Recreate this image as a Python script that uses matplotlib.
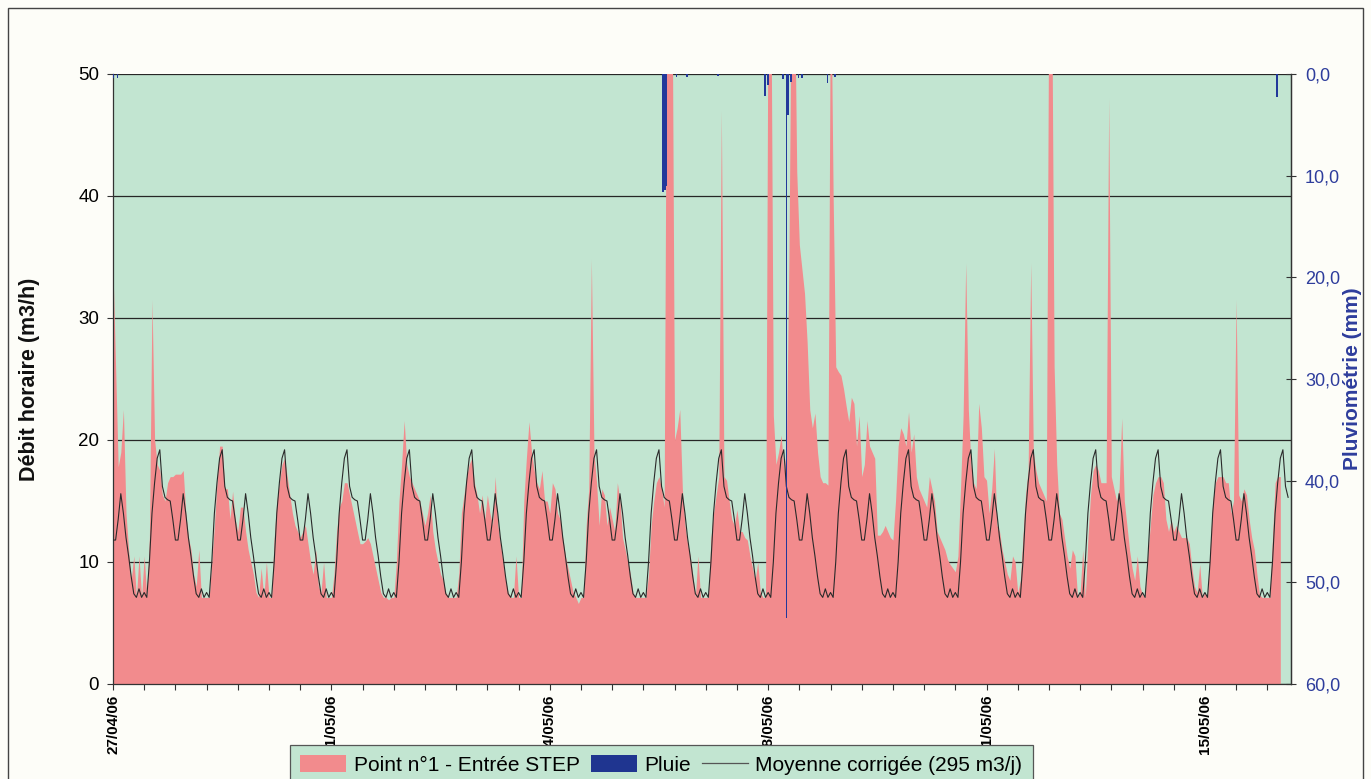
import numpy as np
import matplotlib
matplotlib.use("Agg")
import matplotlib.pyplot as plt
from matplotlib.patches import Patch, Rectangle
from matplotlib.lines import Line2D

plt.rcParams['font.family'] = ['Liberation Sans', 'DejaVu Sans']

# ---------------- data ----------------
# Hourly flow (m3/h) "Point n°1 - Entrée STEP", one list per day (24 h each)
flow_d00 = [34, 26, 17.8, 19, 22.5, 14, 11, 8.5, 10.5, 7.1, 10.5, 7.1, 10.5, 7.1, 12, 31.5, 20, 18, 17.5, 15.5, 15, 16.5, 17, 17]
flow_d01 = [17.2, 17.2, 17.2, 17.5, 14, 12, 11, 9, 8, 11, 7.1, 7.1, 7.1, 7.1, 10, 13, 16.5, 19.5, 19.5, 16, 16, 13.5, 15.8, 13.5]
flow_d02 = [12.5, 14.5, 14.5, 12.5, 11, 10, 9, 7.5, 7.1, 9.5, 7.1, 10, 7.1, 7.1, 12, 15, 16.5, 18, 18.5, 17, 15.5, 14, 13, 12.5]
flow_d03 = [12, 12.5, 13, 11.5, 10, 9, 11, 8, 7.5, 10, 7.1, 7.1, 7.1, 9, 12.5, 14.5, 15, 16.5, 16.5, 15.5, 14.5, 13.5, 12.5, 11.5]
flow_d04 = [11.5, 11.7, 12, 11.5, 10.5, 9.5, 8.5, 7.5, 7.1, 7.1, 6.9, 7.1, 7.1, 10, 15, 18, 21.6, 18, 17, 16.5, 16, 15.5, 15, 14]
flow_d05 = [13, 14, 15.5, 12.5, 11, 10, 9, 8.5, 7.5, 7.1, 7.1, 7.1, 7.1, 9, 14, 15.5, 17, 18, 18.5, 16.5, 15.5, 14, 15.5, 13.5]
flow_d06 = [15.5, 14, 13, 17, 13, 11.5, 10, 8.5, 7.5, 7.1, 7.1, 10.5, 7.1, 7.1, 15, 18.5, 21.5, 19, 17.5, 16.5, 16, 17.5, 15, 15]
flow_d07 = [14, 16.5, 16, 14, 13.5, 12, 10.5, 9.5, 8.5, 7.5, 7.1, 6.6, 7.1, 7.1, 13, 16, 34.8, 19, 16.5, 13, 16, 15.5, 13, 14.5]
flow_d08 = [13.5, 12.5, 16.5, 15, 12, 11, 10, 9, 7.5, 7.1, 7.1, 7.1, 7.1, 7.1, 9, 13, 15, 16.5, 17, 16, 14.5, 60, 60, 60]
flow_d09 = [20, 21, 22.5, 16, 13, 11.5, 10.5, 9, 7.1, 10.5, 7.1, 7.1, 7.1, 7.1, 12, 14, 15.5, 17, 47, 17, 16.7, 15, 13.5, 13]
flow_d10 = [14.3, 12.5, 12.5, 12, 11.8, 10.5, 9.5, 8.5, 10, 7.5, 7.1, 7.1, 60, 60, 22, 18, 19, 20.4, 17.5, 19, 35, 60, 60, 42]
flow_d11 = [36, 34, 32, 28, 22.5, 21, 22.2, 19, 17, 16.5, 16.5, 16.3, 60, 40, 26, 25.6, 25.3, 24.2, 22.8, 21.5, 23.5, 23, 19.5, 22]
flow_d12 = [17, 18, 21.6, 19.5, 19, 18.5, 12.2, 12.2, 12.5, 13, 12.5, 12, 11.8, 15, 19.5, 21, 20.5, 19.5, 22.3, 19, 20.5, 17, 16, 15.5]
flow_d13 = [15, 14.5, 17, 16, 15, 12.5, 12, 11.5, 11, 10.2, 9.8, 9.5, 9.2, 10.5, 16, 22, 34.5, 22.5, 18, 16.5, 16, 23, 21, 17]
flow_d14 = [16.7, 14, 16, 19.3, 13, 12.5, 11, 10, 9, 8.5, 10.5, 10, 7.5, 8.5, 12, 15.5, 17.5, 34.5, 19, 17.5, 16.5, 16, 15.5, 15]
flow_d15 = [60, 60, 26, 18, 14, 13.5, 12, 10.5, 9.5, 11, 10.5, 7.1, 7.5, 11, 7.1, 12, 15.5, 17.5, 18, 17.5, 16.5, 16.5, 16.5, 48]
flow_d16 = [17, 16, 15, 16, 21.8, 15, 13, 11, 9.5, 8.5, 10.5, 8, 7.3, 7.1, 10.5, 13, 15.5, 16.5, 17, 17, 16.5, 13.5, 12.5, 13.5]
flow_d17 = [12.5, 13, 12.5, 12, 12, 12, 11.5, 9.5, 8, 7.5, 9.8, 7.1, 7.5, 7.1, 11, 15, 16.5, 17, 17, 17, 16.5, 16.5, 14, 15]
flow_d18 = [31.5, 15.5, 15, 16, 15.5, 13.5, 12, 11, 9, 7.3, 7.1, 7.1, 7.1, 7.1, 12, 16.5, 17, 17]

# Daily mean profile "Moyenne corrigée (295 m3/j)" (m3/h, per hour of the cycle)
mean_profile = [11.8, 11.8, 13.5, 15.6, 14.0, 12.0, 10.5, 8.8, 7.4, 7.1, 7.8, 7.1,
                7.5, 7.1, 10.0, 14.0, 16.5, 18.5, 19.2, 16.2, 15.3, 15.1, 15.0, 13.5]
mean_n_hours = 453

# Rain (mm), sample time in hours from start
rain_hours = [0.3, 1.6, 211.5, 211.9, 212.3, 212.7, 216.9, 220.8, 232.7,
              250.6, 250.9, 251.8, 252.1, 257.7, 259.0, 259.2, 259.5, 259.8,
              260.8, 261.1, 263.8, 265.0, 274.8, 277.7, 447.7]
rain_mm = [0.4, 0.4, 11.6, 11.6, 11.4, 11.0, 0.3, 0.3, 0.2,
           2.2, 2.2, 1.1, 1.1, 0.5, 4.0, 53.5, 4.0, 4.0,
           0.8, 0.8, 0.4, 0.4, 0.9, 0.3, 2.3]

# x tick labels (every 84 h)
date_labels = ["27/04/06", "01/05/06", "04/05/06", "08/05/06", "11/05/06", "15/05/06"]
date_label_hours = [0, 84, 168, 252, 336, 420]

series_labels = ["Point n°1 - Entrée STEP", "Pluie", "Moyenne corrigée (295 m3/j)"]

# ---------------- drawing ----------------
flow = np.array(flow_d00 + flow_d01 + flow_d02 + flow_d03 + flow_d04 + flow_d05 +
                flow_d06 + flow_d07 + flow_d08 + flow_d09 + flow_d10 + flow_d11 +
                flow_d12 + flow_d13 + flow_d14 + flow_d15 + flow_d16 + flow_d17 + flow_d18)
hours = np.arange(len(flow))
mean_curve = np.resize(np.array(mean_profile), mean_n_hours)
mean_hours = np.arange(mean_n_hours)

PINK = '#F28B8D'
GREEN = '#C2E5D1'
BLUE = '#22389A'
BLUE_TXT = '#2E3D9C'

W, H = 1371, 779
fig = plt.figure(figsize=(W / 100, H / 100), dpi=100, facecolor='#FDFDF8')
L, R, T, B = 113, 1290.7, 74, 684
ax = fig.add_axes([L / W, 1 - B / H, (R - L) / W, (B - T) / H])
ax.set_facecolor(GREEN)

ax.fill_between(hours, flow, 0, color=PINK, lw=0, zorder=1)
ax.plot(mean_hours, mean_curve, color='#2a2a2a', lw=0.8, zorder=3)

ax.set_xlim(0, 453)
ax.set_ylim(0, 50)
ax.set_yticks(range(0, 51, 10))
ax.set_axisbelow(True)
ax.grid(axis='y', color='#262626', lw=0.9)
ax.grid(axis='x', visible=False)
ax.spines['top'].set_visible(False)
for s in ('left', 'bottom', 'right'):
    ax.spines[s].set_color('#333333')
    ax.spines[s].set_linewidth(0.9)

xt = list(range(0, 453, 12))
ax.set_xticks(xt)
lbl_map = dict(zip(date_label_hours, date_labels))
ax.set_xticklabels([lbl_map.get(t, '') for t in xt], rotation=90,
                   fontsize=11, fontweight='bold', va='top', ha='center')
ax.tick_params(axis='x', direction='out', length=4.5, width=0.8, pad=3, color='#333333')
ax.tick_params(axis='y', direction='out', length=4.5, width=0.8, pad=5.5,
               labelsize=13.5, color='#333333')

ax2 = ax.twinx()
ax2.bar(rain_hours, rain_mm, width=0.45, color=BLUE, lw=0, zorder=2)
ax2.set_ylim(60, 0)
ax2.set_yticks(range(0, 61, 10))
ax2.set_yticklabels([f"{v:.1f}".replace('.', ',') for v in range(0, 61, 10)],
                    color=BLUE_TXT, fontsize=13)
ax2.tick_params(axis='y', direction='inout', length=6.5, width=0.8, pad=7, color='#333333')
for s in ('top', 'left', 'bottom'):
    ax2.spines[s].set_visible(False)
ax2.spines['right'].set_color('#333333')
ax2.spines['right'].set_linewidth(0.9)
ax2.set_xlim(0, 453)

fig.text(30 / W, 1 - 379 / H, "Débit horaire (m3/h)", rotation=90, ha='center',
         va='center', fontsize=15.5, fontweight='bold', color='#111111')
fig.text(1352 / W, 1 - 379 / H, "Pluviométrie (mm)", rotation=90, ha='center',
         va='center', fontsize=15, fontweight='bold', color=BLUE_TXT)

handles = [Patch(facecolor=PINK, edgecolor='none'),
           Patch(facecolor='#1F3590', edgecolor='none'),
           Line2D([], [], color='#555555', lw=0.9)]
leg = fig.legend(handles, series_labels, loc='upper left',
                 bbox_to_anchor=(290 / W, 1 - 745 / H), ncol=3, frameon=True,
                 fancybox=False, facecolor=GREEN, edgecolor='#555555',
                 fontsize=15, handlelength=2.2, handleheight=0.85,
                 handletextpad=0.35, columnspacing=0.55, borderpad=0.5,
                 borderaxespad=0)
leg.get_frame().set_alpha(1)
leg.get_frame().set_linewidth(0.9)

fig.add_artist(Rectangle((8 / W, -0.05), (1363 - 8) / W, 1.05 - 8 / H,
                         transform=fig.transFigure, fill=False,
                         edgecolor='#444444', lw=1))

fig.savefig('out.png', dpi=100, facecolor=fig.get_facecolor())
